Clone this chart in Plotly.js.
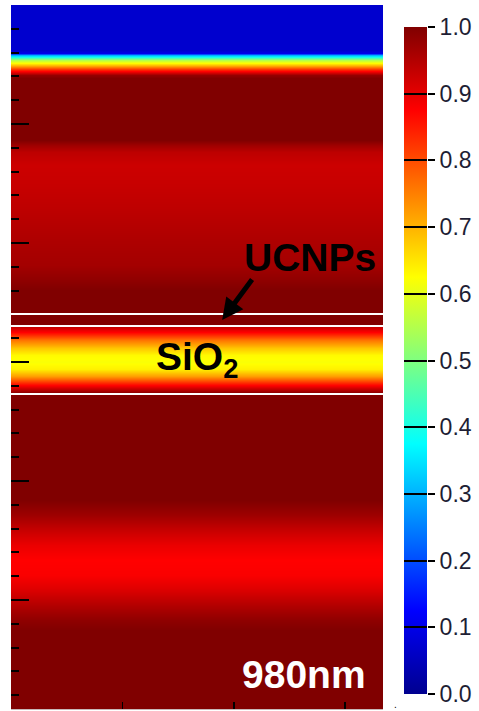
<!DOCTYPE html>
<html>
<head>
<meta charset="utf-8">
<script src="https://cdn.plot.ly/plotly-3.0.1.min.js"></script>
<style>html,body{margin:0;padding:0;background:#fff;}#chart{width:479px;height:711px;}</style>
</head>
<body>
<div id="chart"></div>
<script>
// Depth (nm, from top of the simulation window) and normalised field intensity at 980 nm
const depth = [0, 37.8, 40.3, 42.0, 43.7, 46.2, 48.7, 51.3, 53.8, 56.3, 58.8, 61.3,
  113.4, 117.6, 123.5, 134.5, 151.3, 172.3, 197.5, 218.5, 231.1, 239.5,
  258.8, 269.7, 270.6, 274.8, 281.5, 288.2, 294.1, 300.0, 305.9, 311.8, 317.6, 321.8, 325.2, 327.7,
  416.0, 428.6, 441.2, 453.8, 466.4, 479.0, 491.6, 504.2, 516.8, 525.2, 591.6];
const intensity = [0.07, 0.07, 0.10, 0.30, 0.40, 0.55, 0.63, 0.72, 0.82, 0.90, 0.98, 1.00,
  1.00, 0.97, 0.94, 0.925, 0.93, 0.94, 0.955, 0.965, 0.985, 1.00,
  1.00, 1.00, 0.93, 0.875, 0.76, 0.68, 0.63, 0.62, 0.64, 0.72, 0.84, 0.92, 0.98, 1.00,
  1.00, 0.97, 0.93, 0.895, 0.875, 0.88, 0.91, 0.95, 0.985, 1.00, 1.00];
// Lateral extent (arbitrary units) – field is uniform across x
const lateral = [0, 3.34];
// Layer interfaces (nm): UCNP layer top, UCNP/SiO2, SiO2 bottom
const interfaces = [259.7, 269.7, 326.9];
// Colour bar ticks
const cbTicks = [0, 0.1, 0.2, 0.3, 0.4, 0.5, 0.6, 0.7, 0.8, 0.9, 1.0];
const cbTickText = ['0.0', '0.1', '0.2', '0.3', '0.4', '0.5', '0.6', '0.7', '0.8', '0.9', '1.0'];

const jet = [[0, 'rgb(0,0,143)'], [0.125, 'rgb(0,0,255)'], [0.375, 'rgb(0,255,255)'],
  [0.625, 'rgb(255,255,0)'], [0.875, 'rgb(255,0,0)'], [1, 'rgb(128,0,0)']];

const z = intensity.map(v => lateral.map(() => v));
const FONT = 'Liberation Sans, Arial, sans-serif';

const W = 479, H = 711;
const mL = 11, mT = 5, mB = 2, mR = 39;
const pw = W - mL - mR, ph = H - mT - mB;
const plotRight = 383;
const cbLeft = 404, cbRight = 427, cbTop = 27, cbBottom = 694;

const heat = {
  type: 'heatmap', x: lateral, y: depth, z: z, zsmooth: 'best',
  colorscale: jet, zmin: 0, zmax: 1, hoverinfo: 'skip',
  colorbar: {
    thickness: cbRight - cbLeft, thicknessmode: 'pixels',
    len: cbBottom - cbTop, lenmode: 'pixels',
    x: (cbLeft - mL) / pw, xanchor: 'left', xpad: 0,
    y: (H - mB - cbBottom) / ph, yanchor: 'bottom', ypad: 0,
    outlinewidth: 0,
    tickmode: 'array', tickvals: cbTicks, ticks: 'inside', ticklen: cbRight - cbLeft,
    tickwidth: 2, tickcolor: '#000', showticklabels: false
  }
};

const dummy = { type: 'scatter', x: [null], y: [null], xaxis: 'x2', yaxis: 'y2', hoverinfo: 'skip', showlegend: false };

const shapes = interfaces.map(d => ({
  type: 'line', xref: 'x domain', yref: 'y', x0: 0, x1: 1, y0: d, y1: d,
  line: { color: '#ffffff', width: 2 }, layer: 'above'
}));

const layout = {
  width: W, height: H,
  margin: { l: mL, r: mR, t: mT, b: mB, pad: 0 },
  paper_bgcolor: '#fff', plot_bgcolor: '#fff',
  showlegend: false,
  font: { family: FONT, color: '#000' },
  xaxis: {
    domain: [0, (plotRight - mL) / pw], range: [lateral[0], lateral[1]],
    tick0: 0, dtick: 1, ticks: 'inside', ticklen: 7, tickwidth: 1.5, tickcolor: '#000',
    showticklabels: false, showgrid: false, zeroline: false,
    showline: true, linecolor: '#c8b8b8', linewidth: 1, layer: 'above traces'
  },
  yaxis: {
    range: [591.6, 0], tick0: 0, dtick: 100,
    ticks: 'inside', ticklen: 18, tickwidth: 2, tickcolor: '#000',
    minor: { dtick: 20, ticks: 'inside', ticklen: 8, tickwidth: 2, tickcolor: '#000', showgrid: false },
    showticklabels: false, showgrid: false, zeroline: false, showline: false,
    layer: 'above traces'
  },
  xaxis2: {
    domain: [(cbLeft - mL) / pw, (cbRight - mL) / pw], anchor: 'y2',
    range: [0, 1], visible: false, fixedrange: true
  },
  yaxis2: {
    domain: [(H - mB - cbBottom) / ph, (H - mB - cbTop) / ph], anchor: 'x2', side: 'right',
    range: [0, 1], tickmode: 'array', tickvals: cbTicks, ticktext: cbTickText,
    ticks: 'outside', ticklen: 7, tickwidth: 2, tickcolor: '#000',
    tickfont: { family: FONT, size: 23, color: '#1e1e34' },
    showgrid: false, zeroline: false, showline: false, fixedrange: true
  },
  shapes: shapes,
  annotations: [
    { xref: 'x', yref: 'y', x: 2.686, y: 212.2, text: 'UCNPs', showarrow: false,
      xanchor: 'center', yanchor: 'middle',
      font: { family: FONT, size: 39, color: '#000', weight: 'bold' } },
    { xref: 'x', yref: 'y', x: 1.896, y: 264.7, text: '', showarrow: true,
      ax: 31, ay: -42, arrowhead: 2, arrowsize: 0.85, arrowwidth: 5, arrowcolor: '#000', standoff: 0 },
    { xref: 'x', yref: 'y', x: 1.28, y: 298.3, text: 'SiO<sub>2</sub>', showarrow: false,
      xanchor: 'left', yanchor: 'middle',
      font: { family: FONT, size: 39, color: '#000', weight: 'bold' } },
    { xref: 'x', yref: 'y', x: 2.628, y: 562.6, text: '980nm', showarrow: false,
      xanchor: 'center', yanchor: 'middle',
      font: { family: FONT, size: 39, color: '#fff', weight: 'bold' } },
    { xref: 'paper', yref: 'paper', x: (395 - mL) / pw, y: (H - mB - 704) / ph, text: '.', showarrow: false,
      xanchor: 'center', yanchor: 'middle', font: { family: FONT, size: 10, color: '#000' } }
  ]
};

Plotly.newPlot('chart', [heat, dummy], layout, { staticPlot: true, displayModeBar: false });
</script>
</body>
</html>
